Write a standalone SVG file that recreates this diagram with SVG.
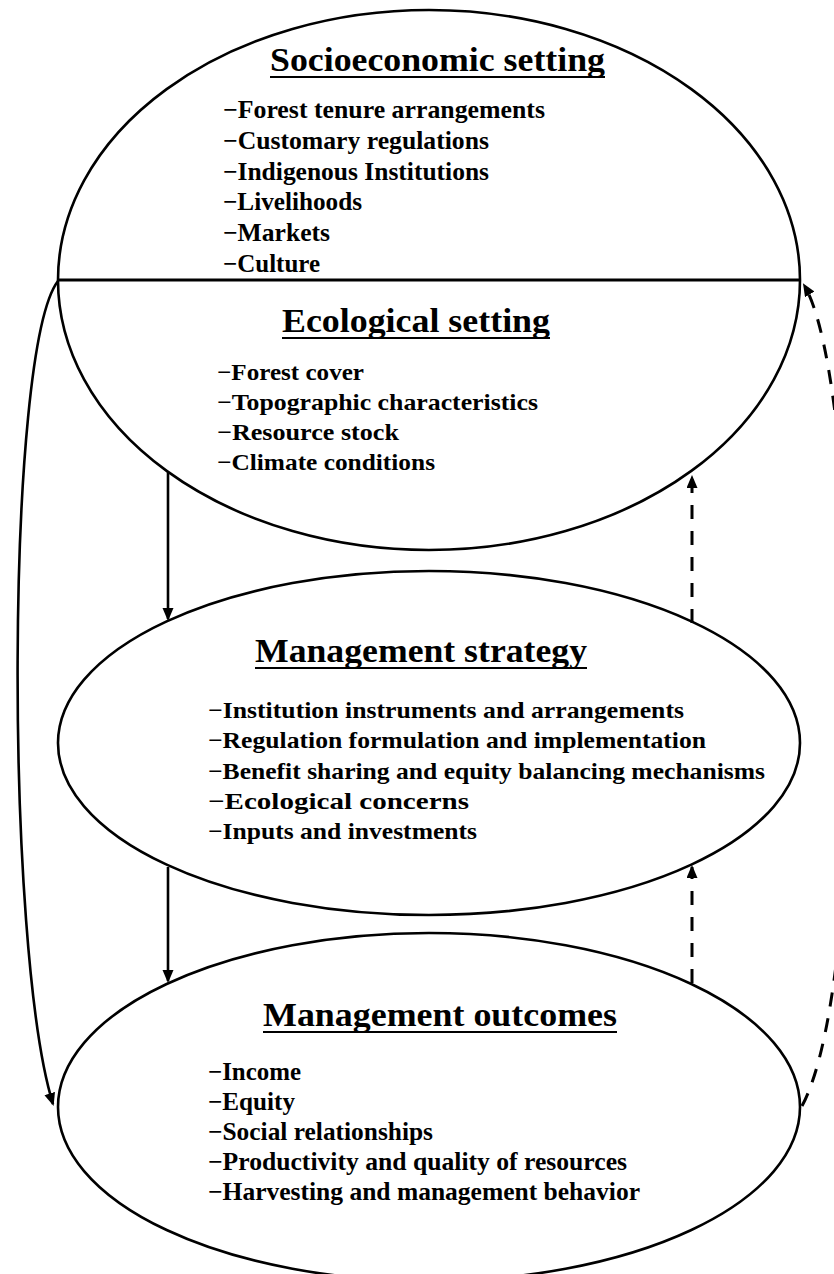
<svg xmlns="http://www.w3.org/2000/svg" width="834" height="1274" viewBox="0 0 834 1274">
  <defs>
    <style>
      .oval { fill: none; stroke: #000; stroke-width: 2.6; }
      .divider { stroke: #000; stroke-width: 3; }
      .title { font-family: "Liberation Serif", "Times New Roman", serif; font-weight: bold; font-size: 33px; fill: #000; }
      .uline { stroke: #000; stroke-width: 2; }
      .item { font-family: "Liberation Serif", "Times New Roman", serif; font-weight: bold; font-size: 23px; fill: #000; }
      .tall { font-size: 25px; }
      .solid { fill: none; stroke: #000; stroke-width: 2.6; }
      .dashed { fill: none; stroke: #000; stroke-width: 3; stroke-dasharray: 14 12; }
    </style>
    <marker id="head" markerUnits="userSpaceOnUse" markerWidth="14" markerHeight="12" refX="11" refY="5.5" orient="auto">
      <path d="M0,0 L13,5.5 L0,11 Z" fill="#000"/>
    </marker>
  </defs>

  <rect width="834" height="1274" fill="#fff"/>

  <!-- Upper oval: socioeconomic (top half) and ecological (bottom half) -->
  <g id="settings">
    <ellipse class="oval" cx="429" cy="280" rx="371" ry="270"/>
    <line class="divider" x1="58" y1="280" x2="800" y2="280"/>

    <g id="socioeconomic">
      <text class="title" x="270" y="71" textLength="335" lengthAdjust="spacingAndGlyphs">Socioeconomic setting</text>
      <line class="uline" x1="270" y1="77" x2="605" y2="77"/>
      <text class="item tall" x="223" y="118" textLength="322" lengthAdjust="spacingAndGlyphs">−Forest tenure arrangements</text>
      <text class="item tall" x="223" y="149" textLength="266" lengthAdjust="spacingAndGlyphs">−Customary regulations</text>
      <text class="item tall" x="223" y="180" textLength="266" lengthAdjust="spacingAndGlyphs">−Indigenous Institutions</text>
      <text class="item tall" x="223" y="210" textLength="139" lengthAdjust="spacingAndGlyphs">−Livelihoods</text>
      <text class="item tall" x="223" y="241" textLength="107" lengthAdjust="spacingAndGlyphs">−Markets</text>
      <text class="item tall" x="223" y="272" textLength="97" lengthAdjust="spacingAndGlyphs">−Culture</text>
    </g>

    <g id="ecological">
      <text class="title" x="282" y="332" textLength="268" lengthAdjust="spacingAndGlyphs">Ecological setting</text>
      <line class="uline" x1="282" y1="338" x2="550" y2="338"/>
      <text class="item" x="217" y="380" textLength="147" lengthAdjust="spacingAndGlyphs">−Forest cover</text>
      <text class="item" x="217" y="410" textLength="321" lengthAdjust="spacingAndGlyphs">−Topographic characteristics</text>
      <text class="item" x="217" y="440" textLength="182" lengthAdjust="spacingAndGlyphs">−Resource stock</text>
      <text class="item" x="217" y="470" textLength="218" lengthAdjust="spacingAndGlyphs">−Climate conditions</text>
    </g>
  </g>

  <!-- Middle oval -->
  <g id="strategy">
    <ellipse class="oval" cx="429" cy="743" rx="371" ry="172"/>
    <text class="title" x="255" y="662" textLength="332" lengthAdjust="spacingAndGlyphs">Management strategy</text>
    <line class="uline" x1="255" y1="668" x2="587" y2="668"/>
    <text class="item" x="208" y="718" textLength="476" lengthAdjust="spacingAndGlyphs">−Institution instruments and arrangements</text>
    <text class="item" x="208" y="748" textLength="498" lengthAdjust="spacingAndGlyphs">−Regulation formulation and implementation</text>
    <text class="item" x="208" y="779" textLength="557" lengthAdjust="spacingAndGlyphs">−Benefit sharing and equity balancing mechanisms</text>
    <text class="item" x="208" y="809" textLength="261" lengthAdjust="spacingAndGlyphs">−Ecological concerns</text>
    <text class="item" x="208" y="839" textLength="269" lengthAdjust="spacingAndGlyphs">−Inputs and investments</text>
  </g>

  <!-- Lower oval -->
  <g id="outcomes">
    <ellipse class="oval" cx="429" cy="1107" rx="371" ry="174"/>
    <text class="title" x="263" y="1026" textLength="354" lengthAdjust="spacingAndGlyphs">Management outcomes</text>
    <line class="uline" x1="263" y1="1032" x2="617" y2="1032"/>
    <text class="item tall" x="208" y="1080" textLength="93" lengthAdjust="spacingAndGlyphs">−Income</text>
    <text class="item tall" x="208" y="1110" textLength="87" lengthAdjust="spacingAndGlyphs">−Equity</text>
    <text class="item tall" x="208" y="1140" textLength="225" lengthAdjust="spacingAndGlyphs">−Social relationships</text>
    <text class="item tall" x="208" y="1170" textLength="419" lengthAdjust="spacingAndGlyphs">−Productivity and quality of resources</text>
    <text class="item tall" x="208" y="1200" textLength="432" lengthAdjust="spacingAndGlyphs">−Harvesting and management behavior</text>
  </g>

  <!-- Connectors -->
  <g id="connectors">
    <!-- forward influences -->
    <path class="solid" d="M168,472 L168,619" marker-end="url(#head)"/>
    <path class="solid" d="M168,867 L168,981" marker-end="url(#head)"/>
    <path class="solid" d="M58,281 C5,350 5,950 53,1104" marker-end="url(#head)"/>
    <!-- feedback -->
    <path class="dashed" d="M692,623 L692,477" marker-end="url(#head)"/>
    <path class="dashed" d="M692,983 L692,867" marker-end="url(#head)"/>
    <path class="dashed" d="M802,1106 C870,980 862,380 804,285" marker-end="url(#head)"/>
  </g>
</svg>
